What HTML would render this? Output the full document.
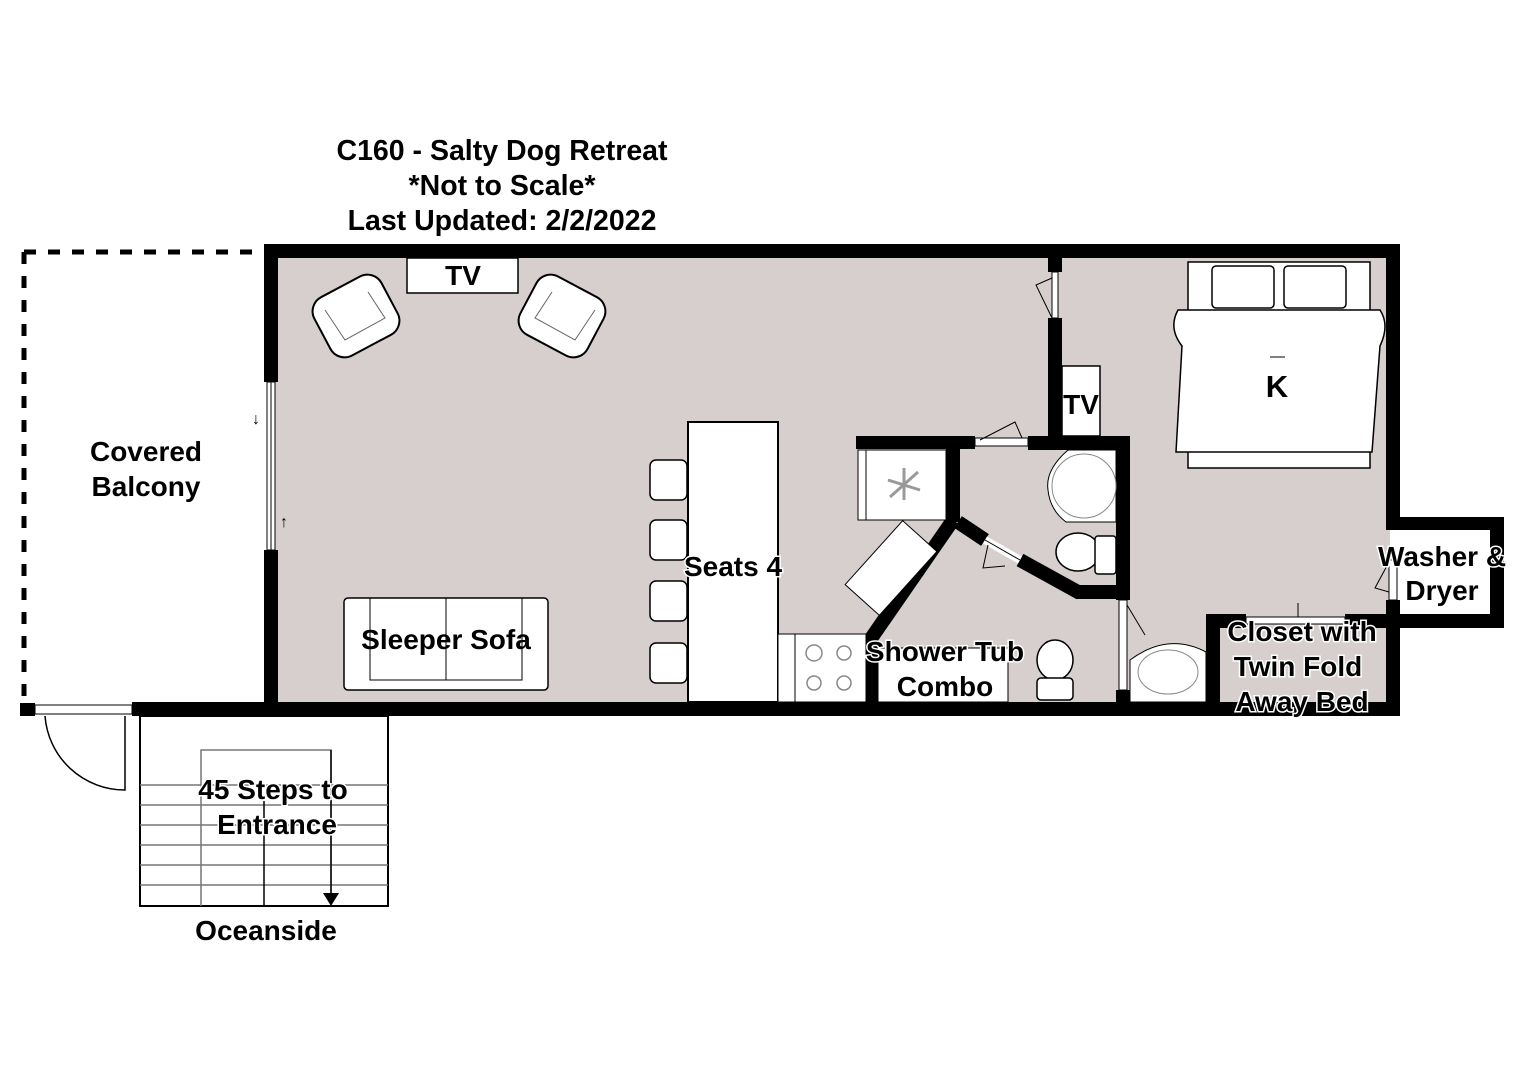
<!DOCTYPE html>
<html><head><meta charset="utf-8"><style>
html,body{margin:0;padding:0;background:#fff}
svg{display:block}
text{font-family:"Liberation Sans",Arial,sans-serif;font-weight:bold;fill:#000}
</style></head><body>
<svg width="1528" height="1080" viewBox="0 0 1528 1080" xmlns="http://www.w3.org/2000/svg">
<rect width="1528" height="1080" fill="#fff"/>
<!-- title -->
<text x="502" y="160" font-size="28.5" text-anchor="middle">C160 - Salty Dog Retreat</text>
<text x="502" y="195" font-size="28.5" text-anchor="middle">*Not to Scale*</text>
<text x="502" y="230" font-size="28.5" text-anchor="middle">Last Updated: 2/2/2022</text>

<!-- floor -->
<rect x="270" y="250" width="1124" height="458" fill="#d6cfcd"/>
<rect x="1390" y="522" width="108" height="100" fill="#fff"/>

<!-- balcony dashed -->
<path d="M24 252 H264 M24 252 V703" stroke="#000" stroke-width="5" stroke-dasharray="12,12" fill="none"/>

<!-- outer walls -->
<g fill="#000">
<rect x="264" y="244" width="1136" height="14"/>
<rect x="264" y="244" width="14" height="138"/>
<rect x="264" y="550" width="14" height="166"/>
<rect x="132" y="702" width="1268" height="14"/>
<rect x="20" y="703" width="15" height="13"/>
<rect x="1386" y="244" width="14" height="274"/>
<rect x="1386" y="600" width="14" height="116"/>
<rect x="1386" y="517" width="118" height="13"/>
<rect x="1490" y="517" width="14" height="111"/>
<rect x="1386" y="614" width="118" height="14"/>
<rect x="1048" y="258" width="14" height="14"/>
<rect x="1048" y="318" width="14" height="130"/>
<rect x="856" y="436" width="119" height="13"/>
<rect x="1028" y="436" width="102" height="14"/>
<rect x="946" y="436" width="14" height="86"/>
<rect x="1116" y="436" width="14" height="164"/>
<rect x="1116" y="690" width="14" height="12"/>
<rect x="866" y="635" width="12" height="67"/>
<rect x="1206" y="614" width="14" height="100"/>
<rect x="1206" y="614" width="40" height="14"/>
<rect x="1345" y="614" width="45" height="14"/>
</g>
<!-- diagonal walls -->
<path d="M953 520 L870 640" stroke="#000" stroke-width="14" fill="none"/>
<path d="M958 522 L985 540 M1020 560 L1078 592 L1122 592" stroke="#000" stroke-width="14" fill="none"/>

<!-- windows/doors -->
<rect x="267" y="382" width="8" height="168" fill="#fff" stroke="#000" stroke-width="1"/>
<line x1="271" y1="382" x2="271" y2="550" stroke="#000"/>
<text x="252" y="424" font-size="16" font-weight="normal">↓</text>
<text x="280" y="527" font-size="16" font-weight="normal">↑</text>
<rect x="35" y="705" width="97" height="9" fill="#fff" stroke="#000"/>
<path d="M45 716 A80 80 0 0 0 125 790 V716" fill="none" stroke="#000" stroke-width="1.5"/>
<rect x="1052" y="272" width="6" height="46" fill="#fff" stroke="#000"/>
<path d="M1052 318 L1036 285 L1052 278" fill="none" stroke="#000"/>
<rect x="975" y="438" width="53" height="8" fill="#fff" stroke="#000"/>
<path d="M980 440 L1015 422 L1022 438" fill="none" stroke="#000"/>
<path d="M985 540 L1020 560" stroke="#fff" stroke-width="8"/>
<path d="M985 540 L1020 560" stroke="#000" stroke-width="1"/>
<path d="M988 545 L983 568 L1005 566" fill="none" stroke="#000"/>
<rect x="1119" y="600" width="8" height="90" fill="#fff" stroke="#000"/>
<path d="M1127 605 L1145 635" fill="none" stroke="#000"/>
<rect x="1246" y="617" width="99" height="7" fill="#fff" stroke="#000"/>
<line x1="1298" y1="603" x2="1298" y2="617" stroke="#000"/>
<rect x="1389" y="560" width="8" height="40" fill="#fff" stroke="#000"/>
<path d="M1389 562 L1375 588 L1389 592" fill="none" stroke="#000"/>

<!-- TV -->
<rect x="407" y="258" width="111" height="35" fill="#fff" stroke="#000" stroke-width="1.5"/>
<text x="463" y="285" font-size="28" text-anchor="middle">TV</text>
<rect x="1062" y="366" width="38" height="70" fill="#fff" stroke="#000" stroke-width="1.5"/>
<text x="1081" y="414" font-size="28" text-anchor="middle">TV</text>

<!-- armchairs -->
<g fill="#fff" stroke="#000" stroke-width="2">
<rect x="318" y="283" width="76" height="66" rx="16" transform="rotate(-28 356 316)"/>
<rect x="524" y="283" width="76" height="66" rx="16" transform="rotate(28 562 316)"/>
</g>
<g fill="none" stroke="#666" stroke-width="1">
<path d="M325 310 L345 340 L385 318 L368 292"/>
<path d="M595 310 L575 340 L535 318 L552 292"/>
</g>

<!-- sofa -->
<rect x="344" y="598" width="204" height="92" rx="4" fill="#fff" stroke="#000" stroke-width="1.5"/>
<path d="M370 598 V680 H522 V598 M446 598 V680" fill="none" stroke="#000"/>
<text x="446" y="649" font-size="28" text-anchor="middle">Sleeper Sofa</text>

<!-- island & stools -->
<rect x="688" y="422" width="90" height="280" fill="#fff" stroke="#000" stroke-width="2"/>
<g fill="#fff" stroke="#000" stroke-width="1.5">
<rect x="650" y="460" width="37" height="40" rx="6"/>
<rect x="650" y="520" width="37" height="40" rx="6"/>
<rect x="650" y="581" width="37" height="40" rx="6"/>
<rect x="650" y="643" width="37" height="40" rx="6"/>
</g>
<text x="733" y="576" font-size="28" text-anchor="middle" stroke="#fff" stroke-width="3" paint-order="stroke">Seats 4</text>
<!-- stove -->
<rect x="778" y="634" width="88" height="68" fill="#fff" stroke="#000"/>
<line x1="795" y1="634" x2="795" y2="702" stroke="#000"/>
<g fill="none" stroke="#888" stroke-width="1.5">
<circle cx="814" cy="653" r="8"/><circle cx="844" cy="653" r="7"/>
<circle cx="814" cy="683" r="7"/><circle cx="844" cy="683" r="7"/>
</g>

<!-- laundry cabinet with fan -->
<rect x="858" y="450" width="88" height="70" fill="#fff" stroke="#000"/>
<line x1="866" y1="450" x2="866" y2="520" stroke="#000"/>
<g stroke="#999" stroke-width="3"><line x1="888" y1="480" x2="920" y2="490"/><line x1="904" y1="468" x2="904" y2="500"/><line x1="890" y1="497" x2="918" y2="472"/></g>
<rect x="848" y="545" width="86" height="46" fill="#fff" stroke="#000" transform="rotate(-48 891 568)"/>

<!-- bathroom fixtures -->
<rect x="878" y="648" width="130" height="54" fill="#fff" stroke="#000"/>
<ellipse cx="1055" cy="660" rx="18" ry="20" fill="#fff" stroke="#000" stroke-width="1.5"/>
<rect x="1037" y="678" width="36" height="22" rx="4" fill="#fff" stroke="#000" stroke-width="1.5"/>
<text x="945" y="661" font-size="28" text-anchor="middle" stroke="#fff" stroke-width="3" paint-order="stroke">Shower Tub</text>
<text x="945" y="696" font-size="28" text-anchor="middle" stroke="#fff" stroke-width="3" paint-order="stroke">Combo</text>

<path d="M1116 450 H1068 Q1045 470 1048 490 Q1050 510 1066 522 H1116 Z" fill="#fff" stroke="#000"/>
<ellipse cx="1084" cy="486" rx="32" ry="32" fill="none" stroke="#888"/>
<ellipse cx="1078" cy="552" rx="22" ry="19" fill="#fff" stroke="#000" stroke-width="1.5"/>
<rect x="1095" y="536" width="21" height="38" rx="3" fill="#fff" stroke="#000" stroke-width="1.5"/>
<path d="M1130 702 V660 Q1168 632 1206 652 V702 Z" fill="#fff" stroke="#000"/>
<ellipse cx="1168" cy="672" rx="30" ry="22" fill="none" stroke="#888"/>

<!-- bed -->
<g fill="#fff" stroke="#000" stroke-width="1.5">
<rect x="1188" y="262" width="182" height="206"/>
<rect x="1212" y="266" width="62" height="42" rx="4"/>
<rect x="1284" y="266" width="62" height="42" rx="4"/>
<path d="M1178 310 H1380 Q1390 325 1380 346 L1372 452 H1176 L1182 346 Q1168 328 1178 310 Z"/>
</g>
<line x1="1270" y1="357" x2="1285" y2="357" stroke="#000"/>
<text x="1277" y="397" font-size="31" text-anchor="middle">K</text>

<!-- closet / washer text -->
<g font-size="28" text-anchor="middle" stroke="#fff" stroke-width="3" paint-order="stroke">
<text x="1302" y="641">Closet with</text>
<text x="1298" y="676">Twin Fold</text>
<text x="1302" y="711">Away Bed</text>
<text x="1442" y="566">Washer &amp;</text>
<text x="1442" y="600">Dryer</text>
</g>

<!-- balcony text -->
<text x="146" y="461" font-size="28" text-anchor="middle">Covered</text>
<text x="146" y="496" font-size="28" text-anchor="middle">Balcony</text>

<!-- stairs -->
<rect x="140" y="716" width="248" height="190" fill="#fff" stroke="#000" stroke-width="2"/>
<g stroke="#777" stroke-width="1.5" fill="none">
<path d="M140 785 H388 M140 805 H388 M140 825 H388 M140 845 H388 M140 865 H388 M140 885 H388"/>
<path d="M201 906 V750 H331 V898"/>
</g>
<line x1="264" y1="801" x2="264" y2="906" stroke="#000" stroke-width="1.5"/>
<line x1="331" y1="750" x2="331" y2="896" stroke="#000" stroke-width="1.5"/>
<path d="M323 893 H339 L331 906 Z" fill="#000"/>
<g font-size="28" text-anchor="middle" stroke="#fff" stroke-width="3" paint-order="stroke">
<text x="273" y="799">45 Steps to</text>
<text x="277" y="834">Entrance</text>
</g>
<text x="266" y="940" font-size="28" text-anchor="middle">Oceanside</text>
</svg>
</body></html>
